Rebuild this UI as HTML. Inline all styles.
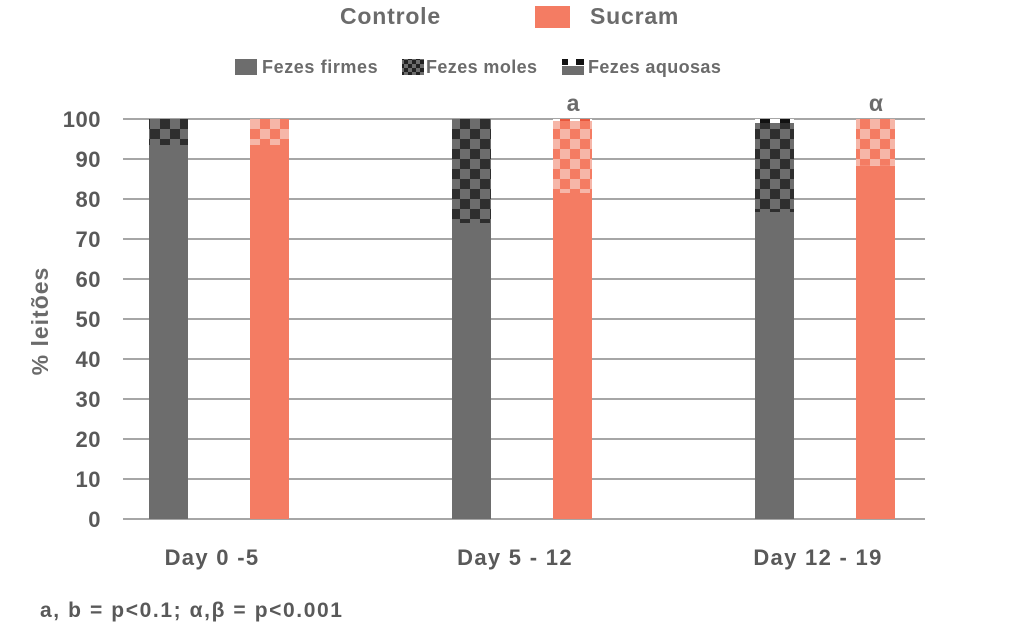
<!DOCTYPE html>
<html><head><meta charset="utf-8"><style>
body{margin:0;background:#fff;}
svg{display:block;font-family:"Liberation Sans",sans-serif;font-weight:bold;}
</style></head><body>
<svg id="chart" width="1024" height="631" viewBox="0 0 1024 631">
<defs>
<pattern id="pGray" width="20" height="20" patternUnits="userSpaceOnUse" x="0" y="119">
<rect width="20" height="20" fill="#6d6d6d"/><rect width="10" height="10" fill="#2e2e2e"/><rect x="10" y="10" width="10" height="10" fill="#2e2e2e"/></pattern>
<pattern id="pSal" width="20" height="20" patternUnits="userSpaceOnUse" x="0" y="119">
<rect width="20" height="20" fill="#f47c63"/><rect x="10" width="10" height="10" fill="#f6b6a8"/><rect y="10" width="10" height="10" fill="#f6b6a8"/></pattern>
<pattern id="pGrayAq" width="20" height="4" patternUnits="userSpaceOnUse" x="0" y="119">
<rect width="20" height="4" fill="#fff"/><rect width="10" height="4" fill="#111"/></pattern>
<pattern id="pSalAq" width="20" height="4" patternUnits="userSpaceOnUse" x="0" y="119">
<rect width="20" height="4" fill="#fff"/><rect width="10" height="4" fill="#e8583e"/></pattern>
<pattern id="legMoles" width="8" height="8" patternUnits="userSpaceOnUse"><rect width="8" height="8" fill="#6d6d6d"/><rect width="4" height="4" fill="#222"/><rect x="4" y="4" width="4" height="4" fill="#222"/></pattern>
</defs>
<g>
<text x="340" y="24" font-size="23" letter-spacing="0.8" fill="#6b6b6b">Controle</text>
<rect x="535" y="6" width="35" height="22" fill="#f47c63"/>
<text x="590" y="24" font-size="23" letter-spacing="0.8" fill="#6b6b6b">Sucram</text>
</g>
<g>
<rect x="235" y="59" width="22" height="16" fill="#6d6d6d"/>
<text x="262" y="73" font-size="18" letter-spacing="0.6" fill="#6b6b6b">Fezes firmes</text>
<rect x="402" y="59" width="22" height="16" fill="url(#legMoles)"/>
<text x="426" y="73" font-size="18" letter-spacing="0.4" fill="#6b6b6b">Fezes moles</text>
<rect x="562" y="59" width="22" height="16" fill="#fff"/>
<rect x="562" y="59" width="6" height="6" fill="#111"/><rect x="576" y="59" width="8" height="6" fill="#111"/><rect x="562" y="66" width="22" height="9" fill="#6d6d6d"/>
<text x="588" y="73" font-size="18" letter-spacing="0.4" fill="#6b6b6b">Fezes aquosas</text>
</g>
<g id="grid"></g><g id="bars"></g><g id="labels"></g>
<text transform="translate(48,321) rotate(-90)" text-anchor="middle" font-size="23" letter-spacing="1" fill="#6b6b6b">% leitões</text>
<text x="40" y="617" font-size="21" letter-spacing="1.6" fill="#595959">a, b = p&lt;0.1; α,β = p&lt;0.001</text>
</svg>
<script>
const categories=["Day 0 -5","Day 5 - 12","Day 12 - 19"];
const controleFirmes=[93.5,74,76.75];
const controleMoles=[6.5,26,22.25];
const controleAquosas=[0,0,1];
const sucramFirmes=[93.5,81.5,88.3];
const sucramMoles=[6.5,18,11.7];
const sucramAquosas=[0,0.5,0];
const sucramMarks=["","a","α"];
const yTicks=[0,10,20,30,40,50,60,70,80,90,100];
const NS="http://www.w3.org/2000/svg";
const y=v=>519-v*4;
const cx=i=>219+303*i;
function mk(tag,attrs,parent){const e=document.createElementNS(NS,tag);for(const k in attrs)e.setAttribute(k,attrs[k]);parent.appendChild(e);return e;}
const grid=document.getElementById('grid'),bars=document.getElementById('bars'),labels=document.getElementById('labels');
yTicks.forEach(t=>{
 const l=mk('line',{x1:123,x2:925,y1:y(t),y2:y(t),stroke:'#a6a6a6','stroke-width':2},grid);
 
 
 const tx=mk('text',{x:101,y:y(t)+8,'text-anchor':'end','font-size':22,'letter-spacing':0.5,fill:'#595959'},labels);
 tx.textContent=t;
 
 
});
function stack(x,vals,fills,names){let b=0;vals.forEach((v,k)=>{if(v<=0)return;
 const r=mk('rect',{x:x,y:y(b+v),width:39,height:v*4,fill:fills[k]},bars);
 
 
 b+=v;});}
categories.forEach((c,i)=>{
 stack(cx(i)-70,[controleFirmes[i],controleMoles[i],controleAquosas[i]],['#6d6d6d','url(#pGray)','url(#pGrayAq)'],['bar-controle-firmes','bar-controle-moles','bar-controle-aquosas']);
 stack(cx(i)+31,[sucramFirmes[i],sucramMoles[i],sucramAquosas[i]],['#f47c63','url(#pSal)','url(#pSalAq)'],['bar-sucram-firmes','bar-sucram-moles','bar-sucram-aquosas']);
 const t=mk('text',{x:cx(i)-7,y:565,'text-anchor':'middle','font-size':22,'letter-spacing':1.3,fill:'#595959'},labels);
 t.textContent=c;
 
 
 if(sucramMarks[i]){const m=mk('text',{x:cx(i)+51,y:111,'text-anchor':'middle','font-size':23,fill:'#6b6b6b'},labels);
 m.textContent=sucramMarks[i];
 
 }
});
</script>
</body></html>
